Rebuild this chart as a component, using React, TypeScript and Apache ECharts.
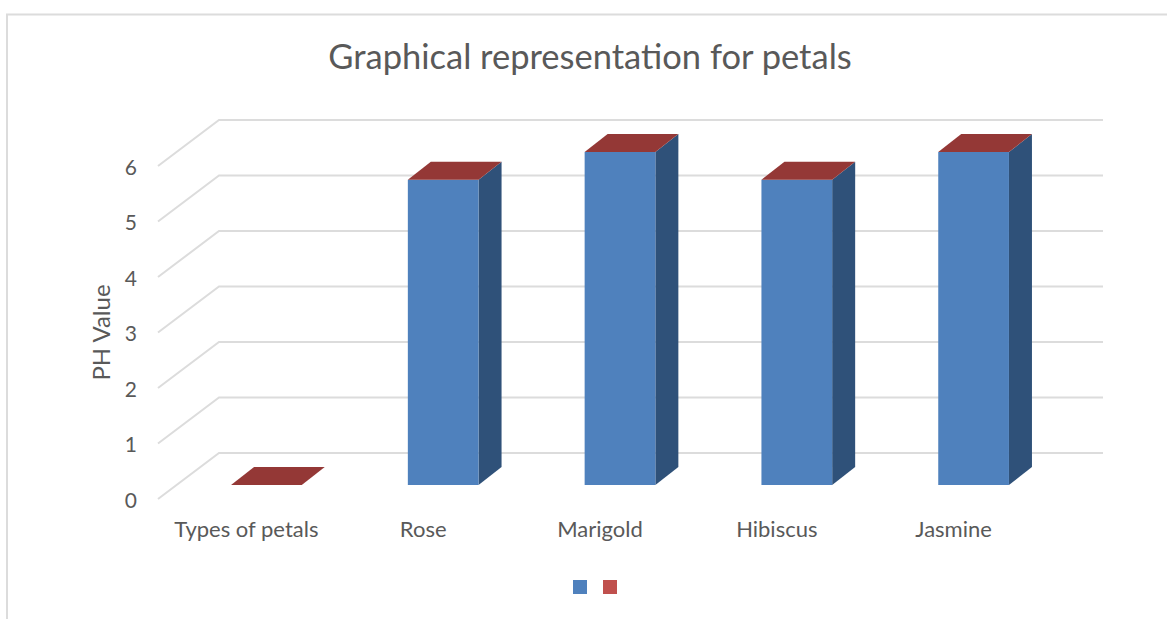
import React, { useEffect, useRef } from "react";
import * as echarts from "echarts";

const categories = ["Types of petals", "Rose", "Marigold", "Hibiscus", "Jasmine"];
const phValues = [0, 5.5, 6, 5.5, 6];
const capValues = [0, 0, 0, 0, 0];
const gridTicks = [0, 1, 2, 3, 4, 5, 6];

const FONT = "Lato";
const TEXT = "#595959";
const GRID = "#dcdcdc";
const BLUE = "#4f81bd";
const BLUE_SIDE = "#2f5179";
const RED = "#c0504d";
const RED_TOP = "#943836";

const BAR_SHIFT_X = 20;
const BAR_SHIFT_Y = -14;
const DEPTH_X = 23;
const DEPTH_Y = -18;
const WALL_X = 61;
const WALL_Y = -46;

export default function App() {
  const ref = useRef<HTMLDivElement>(null);
  useEffect(() => {
    document.body.style.margin = "0";
    const chart = echarts.init(ref.current!, undefined, { renderer: "svg" });
    chart.setOption({
      animation: false,
      backgroundColor: "#ffffff",
      title: {
        text: "Graphical representation for petals",
        left: 585,
        top: 33,
        textAlign: "center",
        textStyle: { fontFamily: FONT, fontSize: 34.5, fontWeight: "normal", color: TEXT },
      },
      legend: {
        left: 568,
        top: 575,
        itemWidth: 14,
        itemHeight: 14,
        itemGap: 16,
        icon: "rect",
        formatter: () => "",
        data: ["PH value", "Top"],
        textStyle: { padding: 0, fontSize: 1 },
      },
      grid: { left: 158, right: 125, top: 166, bottom: 120 },
      xAxis: {
        type: "category",
        data: categories,
        axisLine: { show: false },
        axisTick: { show: false },
        axisLabel: { margin: 18, fontFamily: FONT, fontSize: 22, color: TEXT, interval: 0 },
      },
      yAxis: {
        type: "value",
        min: 0,
        max: 6,
        interval: 1,
        name: "PH Value",
        nameLocation: "middle",
        nameRotate: 90,
        nameGap: 46,
        nameTextStyle: { fontFamily: FONT, fontSize: 24, color: TEXT },
        axisLine: { show: false },
        axisTick: { show: false },
        splitLine: { show: false },
        axisLabel: { margin: 21, fontFamily: FONT, fontSize: 21, color: TEXT },
      },
      graphic: [
        {
          type: "polyline",
          silent: true,
          shape: { points: [[7, 619], [7, 14.5], [1167, 14.5]] },
          style: { stroke: "#dcdcdc", lineWidth: 2, fill: "none" },
        },
      ],
      series: [
        {
          type: "custom",
          name: "grid",
          silent: true,
          clip: false,
          z: 1,
          encode: { x: 0, y: 1 },
          data: gridTicks.map((t) => [0, t]),
          renderItem: (params: any, api: any) => {
            const y = api.coord([0, api.value(1)])[1];
            const { x, width } = params.coordSys;
            return {
              type: "polyline",
              shape: {
                points: [
                  [x, y],
                  [x + WALL_X, y + WALL_Y],
                  [x + width + WALL_X, y + WALL_Y],
                ],
              },
              style: { stroke: GRID, lineWidth: 2, fill: "none" },
            };
          },
        },
        {
          type: "custom",
          name: "PH value",
          clip: false,
          z: 2,
          itemStyle: { color: BLUE },
          encode: { x: 0, y: 1 },
          data: phValues.map((v, i) => [i, v]),
          renderItem: (_p: any, api: any) => {
            const i = api.value(0);
            const top = api.coord([i, api.value(1)]);
            const base = api.coord([i, 0]);
            const w = api.size([1, 0])[0] * 0.4;
            const x0 = top[0] + BAR_SHIFT_X - w / 2;
            const x1 = x0 + w;
            const y0 = top[1] + BAR_SHIFT_Y;
            const y1 = base[1] + BAR_SHIFT_Y;
            if (y1 - y0 < 0.5) return { type: "group", children: [] };
            return {
              type: "group",
              children: [
                {
                  type: "polygon",
                  shape: {
                    points: [
                      [x1, y0],
                      [x1 + DEPTH_X, y0 + DEPTH_Y],
                      [x1 + DEPTH_X, y1 + DEPTH_Y],
                      [x1, y1],
                    ],
                  },
                  style: { fill: BLUE_SIDE },
                },
                {
                  type: "rect",
                  shape: { x: x0, y: y0, width: w, height: y1 - y0 },
                  style: { fill: BLUE },
                },
              ],
            };
          },
        },
        {
          type: "custom",
          name: "Top",
          clip: false,
          z: 3,
          itemStyle: { color: RED },
          encode: { x: 0, y: 1 },
          data: capValues.map((v, i) => [i, phValues[i] + v]),
          renderItem: (_p: any, api: any) => {
            const i = api.value(0);
            const top = api.coord([i, api.value(1)]);
            const w = api.size([1, 0])[0] * 0.4;
            const x0 = top[0] + BAR_SHIFT_X - w / 2;
            const x1 = x0 + w;
            const y0 = top[1] + BAR_SHIFT_Y;
            return {
              type: "polygon",
              shape: {
                points: [
                  [x0, y0],
                  [x0 + DEPTH_X, y0 + DEPTH_Y],
                  [x1 + DEPTH_X, y0 + DEPTH_Y],
                  [x1, y0],
                ],
              },
              style: { fill: RED_TOP },
            };
          },
        },
      ],
    });
    return () => chart.dispose();
  }, []);
  return <div ref={ref} style={{ position: "fixed", left: 0, top: 0, width: 1167, height: 619 }} />;
}
